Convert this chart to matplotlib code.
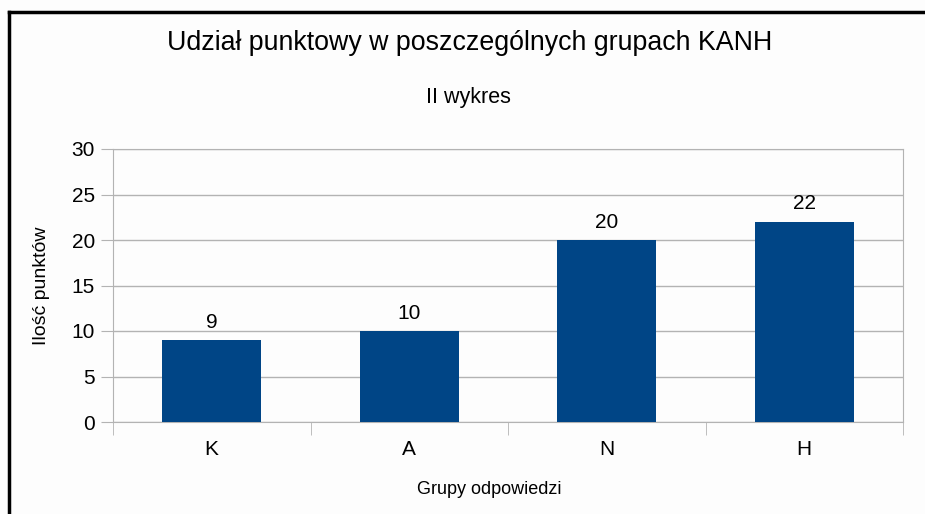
import matplotlib.pyplot as plt
from matplotlib.lines import Line2D

categories = ["K", "A", "N", "H"]
points = [9, 10, 20, 22]

plt.rcParams["font.family"] = ["Liberation Sans", "DejaVu Sans"]

fig = plt.figure(figsize=(9.25, 5.14), dpi=100, facecolor="#fdfdfd")
W, H = 925, 514
ax = fig.add_axes([113 / W, 1 - 422 / H, 790 / W, (422 - 149) / H])
ax.set_facecolor("#fdfdfd")

x = range(len(categories))
bars = ax.bar(x, points, width=0.5, color="#004586", zorder=3)
ax.bar_label(bars, padding=6, fontsize=15)

ax.set_xlim(-0.5, len(categories) - 0.5)
ax.set_ylim(0, 30)
ax.set_yticks(range(0, 31, 5))
ax.set_xticks(list(x))
ax.set_xticklabels(categories)
ax.set_xticks([i - 0.5 for i in range(len(categories) + 1)], minor=True)

ax.grid(axis="y", color="#b3b3b3", linewidth=1, zorder=0)
for s in ax.spines.values():
    s.set_color("#b3b3b3")
ax.tick_params(axis="x", which="major", length=0, pad=13, labelsize=15)
ax.tick_params(axis="x", which="minor", length=9, color="#b3b3b3")
ax.tick_params(axis="y", length=9, color="#b3b3b3", pad=4, labelsize=15)

fig.text(470 / W, 1 - 50 / H, "Udział punktowy w poszczególnych grupach KANH",
         ha="center", va="baseline", fontsize=19.3)
fig.text(468 / W, 1 - 103 / H, "II wykres", ha="center", va="baseline", fontsize=15.5)
fig.text(489 / W, 1 - 494 / H, "Grupy odpowiedzi", ha="center", va="baseline", fontsize=13)
fig.text(41 / W, 1 - 286 / H, "Ilość punktów", ha="center", va="center",
         rotation=90, fontsize=14)

# frame line on left and top
fig.add_artist(Line2D([9 / W, 9 / W], [0, 1 - 12 / H], color="black", lw=2.5,
                      transform=fig.transFigure))
fig.add_artist(Line2D([9 / W, 1], [1 - 12 / H, 1 - 12 / H], color="black", lw=2.5,
                      transform=fig.transFigure))

fig.savefig("out.png", dpi=100, facecolor=fig.get_facecolor())
